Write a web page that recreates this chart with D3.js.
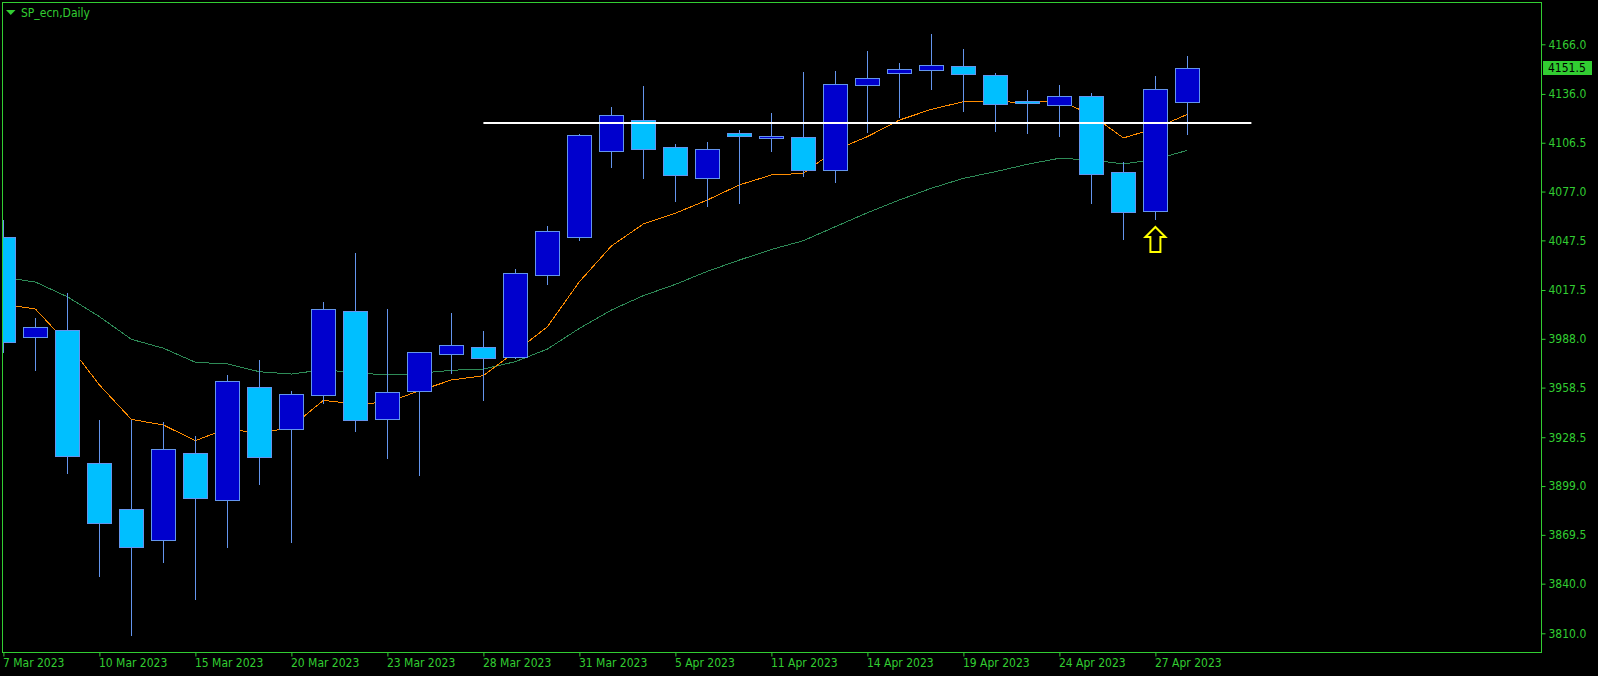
<!DOCTYPE html>
<html>
<head>
<meta charset="utf-8">
<script src="https://cdn.jsdelivr.net/npm/d3@7"></script>
<style>
  html, body { margin: 0; padding: 0; background: #000; }
  svg { display: block; }
  text { font-family: "DejaVu Sans Condensed", "Liberation Sans Narrow", "DejaVu Sans", sans-serif; }
</style>
</head>
<body>
<svg id="chart" width="1598" height="676"></svg>
<script>
// ---- data ----
const symbolTitle = "SP_ecn,Daily";
const dates = ["7 Mar 2023","8 Mar 2023","9 Mar 2023","10 Mar 2023","13 Mar 2023","14 Mar 2023","15 Mar 2023","16 Mar 2023","17 Mar 2023","20 Mar 2023","21 Mar 2023","22 Mar 2023","23 Mar 2023","24 Mar 2023","27 Mar 2023","28 Mar 2023","29 Mar 2023","30 Mar 2023","31 Mar 2023","3 Apr 2023","4 Apr 2023","5 Apr 2023","6 Apr 2023","10 Apr 2023","11 Apr 2023","12 Apr 2023","13 Apr 2023","14 Apr 2023","17 Apr 2023","18 Apr 2023","19 Apr 2023","20 Apr 2023","21 Apr 2023","24 Apr 2023","25 Apr 2023","26 Apr 2023","27 Apr 2023","28 Apr 2023"];
const opens  = [4049.3,3988.9,3993.1,3912.8,3885.0,3866.2,3918.8,3890.4,3958.7,3933.3,3953.9,4004.6,3939.3,3956.6,3978.6,3982.9,3976.8,4026.7,4049.3,4101.3,4120.1,4103.7,4085.0,4112.2,4109.2,4109.8,4089.8,4141.2,4148.5,4150.6,4152.7,4147.3,4131.5,4129.1,4134.6,4088.6,4065.1,4130.9];
const highs  = [4059.8,4000.4,4015.5,3938.9,3938.9,3937.7,3929.3,3966.1,3975.2,3956.5,4010.2,4039.9,4006.0,3980.0,4003.4,3992.7,4030.2,4056.2,4111.8,4128.1,4140.8,4105.7,4106.9,4114.2,4124.5,4149.3,4149.9,4162.0,4154.7,4172.2,4163.2,4148.7,4138.4,4141.4,4136.6,4094.9,4146.8,4158.9];
const lows   = [3979.2,3968.7,3906.3,3844.2,3808.5,3852.7,3830.3,3861.7,3899.8,3864.8,3948.8,3931.8,3915.2,3905.3,3966.9,3950.6,3976.0,4020.7,4047.3,4091.4,4084.8,4070.9,4067.8,4069.7,4101.1,4086.0,4082.4,4112.2,4121.6,4138.6,4125.3,4113.2,4112.0,4110.2,4069.7,4047.9,4059.8,4111.2];
const closes = [3986.2,3995.0,3917.0,3876.5,3862.3,3921.2,3892.0,3962.3,3916.4,3954.5,4005.8,3938.7,3955.7,3979.8,3984.1,3976.2,4027.6,4053.0,4111.0,4123.1,4102.9,4087.2,4102.5,4110.4,4110.4,4089.8,4141.8,4145.5,4150.9,4153.3,4148.2,4130.1,4130.3,4134.6,4087.4,4064.5,4138.8,4151.5];
// moving averages as drawn (read per bar)
const maFast = [4008.9,4006.0,3985.3,3960.1,3939.3,3935.9,3926.4,3933.9,3930.5,3934.9,3950.8,3948.6,3949.6,3956.6,3963.1,3965.7,3980.2,3995.3,4022.5,4044.1,4057.4,4063.9,4071.9,4081.0,4087.0,4088.0,4102.1,4110.2,4120.2,4126.7,4131.3,4131.3,4130.9,4132.2,4123.3,4109.4,4115.2,4123.7];
const maSlow = [4025.2,4022.3,4013.4,4001.4,3987.7,3982.3,3973.8,3972.8,3968.1,3966.7,3969.3,3967.5,3966.1,3967.1,3969.0,3969.7,3974.2,3981.8,3994.3,4005.4,4014.1,4020.9,4028.8,4035.6,4042.0,4047.3,4055.8,4064.2,4071.9,4079.0,4085.0,4089.0,4093.5,4097.1,4096.1,4093.7,4096.5,4101.9];
const priceTicks = [4166.0,4136.0,4106.5,4077.0,4047.5,4017.5,3988.0,3958.5,3928.5,3899.0,3869.5,3840.0,3810.0];
const dateTickIdx = [0,3,6,9,12,15,18,21,24,27,30,33,36];
const levelPrice = 4118.4;      // white horizontal level
const levelFromIdx = 15, levelToIdx = 39;
const arrowIdx = 36;            // yellow up-arrow bar
const lastPrice = 4151.5;

// ---- layout ----
const W = 1598, H = 676;
const plot = {left: 2.5, top: 2.5, right: 1541.5, bottom: 652.5};
const svg = d3.select("#chart");
svg.append("rect").attr("width", W).attr("height", H).attr("fill", "#000");

const x = d3.scaleLinear().domain([0, 37]).range([3.4, 1187.4]);
const y = d3.scaleLinear().domain([3810, 4166]).range([633.3, 44.3]);

const GREEN = "#32CD32";
const BULL = "#0000CD", BEAR = "#00BFFF", EDGE = "#6495ED";

svg.append("defs").append("clipPath").attr("id", "clip")
  .append("rect").attr("x", 3).attr("y", 3).attr("width", 1538).attr("height", 649);

const g = svg.append("g").attr("clip-path", "url(#clip)");

// moving averages
const lineGen = d3.line().x((d, i) => x(i)).y(d => y(d));
g.append("path").datum(maSlow).attr("d", lineGen)
  .attr("fill", "none").attr("stroke", "#2E8B57").attr("stroke-width", 1).attr("shape-rendering", "crispEdges");
g.append("path").datum(maFast).attr("d", lineGen)
  .attr("fill", "none").attr("stroke", "#FF8C00").attr("stroke-width", 1).attr("shape-rendering", "crispEdges");

// candles
const bars = dates.map((d, i) => ({i, o: opens[i], h: highs[i], l: lows[i], c: closes[i]}));
const cg = g.selectAll("g.candle").data(bars).join("g").attr("class", "candle");
cg.append("line")
  .attr("x1", d => Math.floor(x(d.i)) + 0.5).attr("x2", d => Math.floor(x(d.i)) + 0.5)
  .attr("y1", d => Math.round(y(d.h))).attr("y2", d => Math.round(y(d.l)))
  .attr("stroke", EDGE).attr("stroke-width", 1);
cg.append("rect")
  .attr("x", d => Math.floor(x(d.i)) - 12 + 0.5)
  .attr("width", 24)
  .attr("y", d => Math.round(y(Math.max(d.o, d.c))) + 0.5)
  .attr("height", d => Math.max(1, Math.round(y(Math.min(d.o, d.c))) - Math.round(y(Math.max(d.o, d.c)))))
  .attr("fill", d => d.c >= d.o ? BULL : BEAR)
  .attr("stroke", EDGE).attr("stroke-width", 1);

// white level line
g.append("line")
  .attr("x1", x(levelFromIdx)).attr("x2", x(levelToIdx))
  .attr("y1", Math.round(y(levelPrice))).attr("y2", Math.round(y(levelPrice)))
  .attr("stroke", "#fff").attr("stroke-width", 2);

// yellow arrow below bar low
const ax = x(arrowIdx), ay = y(lows[arrowIdx]) + 7;
const arrowPath = `M${ax},${ay} L${ax+10},${ay+10} L${ax+5},${ay+10} L${ax+5},${ay+25} L${ax-5},${ay+25} L${ax-5},${ay+10} L${ax-10},${ay+10} Z`;
g.append("path").attr("d", arrowPath).attr("fill", "#000").attr("stroke", "#FFFF00").attr("stroke-width", 2).attr("stroke-linejoin", "miter");

// frame
svg.append("rect").attr("x", plot.left).attr("y", plot.top)
  .attr("width", plot.right - plot.left).attr("height", plot.bottom - plot.top)
  .attr("fill", "none").attr("stroke", GREEN).attr("stroke-width", 1);

// right price axis
const yAxis = svg.append("g").attr("transform", `translate(${plot.right},0)`)
  .call(d3.axisRight(y).tickValues(priceTicks).tickFormat(d3.format(".1f")).tickSize(4).tickPadding(3));
yAxis.select(".domain").remove();
yAxis.selectAll("line").attr("stroke", GREEN);
yAxis.selectAll("text").attr("fill", GREEN).attr("font-size", 12);

// bottom date axis
const xAxis = svg.append("g").attr("transform", `translate(0,${plot.bottom})`)
  .call(d3.axisBottom(x).tickValues(dateTickIdx).tickFormat(i => dates[i]).tickSize(4).tickPadding(2));
xAxis.select(".domain").remove();
xAxis.selectAll("line").attr("stroke", GREEN);
xAxis.selectAll("text").attr("fill", GREEN).attr("font-size", 12).attr("text-anchor", "start").attr("dx", -1);

// last price label
const ly = Math.round(y(lastPrice));
svg.append("rect").attr("x", 1543).attr("y", ly - 7).attr("width", 49).attr("height", 14).attr("fill", GREEN);
svg.append("text").attr("x", 1548).attr("y", ly).attr("dy", "0.35em")
  .attr("fill", "#000").attr("font-size", 12).text(d3.format(".1f")(lastPrice));

// title
svg.append("path").attr("d", "M6,10 L15.5,10 L10.75,15 Z").attr("fill", GREEN);
svg.append("text").attr("x", 21).attr("y", 17).attr("fill", GREEN).attr("font-size", 12).text(symbolTitle);
</script>
</body>
</html>
